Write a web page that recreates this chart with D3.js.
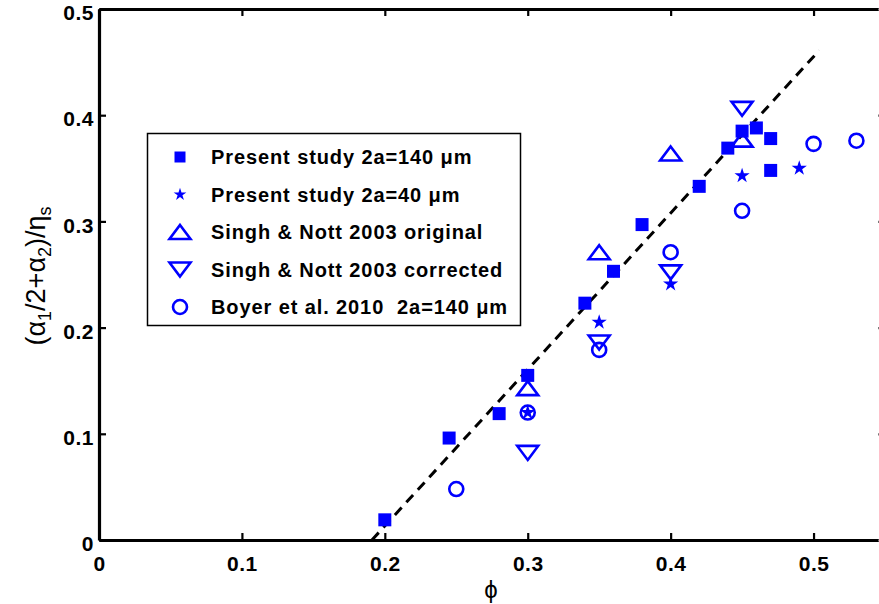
<!DOCTYPE html>
<html>
<head>
<meta charset="utf-8">
<script src="https://cdn.jsdelivr.net/npm/d3@7"></script>
<style>
  html, body { margin: 0; padding: 0; background: #fff; }
  svg { display: block; }
  text { font-family: "Liberation Sans", Arial, sans-serif; }
</style>
</head>
<body>
<svg id="chart" width="879" height="604"></svg>
<script>
// ---- data ----
const xTicks = [0, 0.1, 0.2, 0.3, 0.4, 0.5];
const yTicks = [0, 0.1, 0.2, 0.3, 0.4, 0.5];
const xTickLabels = ["0", "0.1", "0.2", "0.3", "0.4", "0.5"];
const yTickLabels = ["0", "0.1", "0.2", "0.3", "0.4", "0.5"];

const present140Phi = [0.2, 0.245, 0.28, 0.3, 0.34, 0.36, 0.38, 0.42, 0.44, 0.45, 0.46, 0.47, 0.47];
const present140Val = [0.019, 0.096, 0.119, 0.155, 0.223, 0.253, 0.297, 0.333, 0.369, 0.385, 0.388, 0.378, 0.348];

const present40Phi = [0.3, 0.35, 0.4, 0.45, 0.49];
const present40Val = [0.12, 0.205, 0.241, 0.343, 0.350];

const singhOrigPhi = [0.3, 0.35, 0.4, 0.45];
const singhOrigVal = [0.143, 0.271, 0.364, 0.377];

const singhCorrPhi = [0.3, 0.35, 0.4, 0.45];
const singhCorrVal = [0.082, 0.186, 0.252, 0.406];

const boyerPhi = [0.25, 0.3, 0.35, 0.4, 0.45, 0.5, 0.53];
const boyerVal = [0.048, 0.12, 0.179, 0.271, 0.31, 0.373, 0.376];

const fitPhi = [0.191, 0.504];
const fitVal = [0, 0.461];

const legendLabels = [
  "Present study 2a=140 \u03bcm",
  "Present study 2a=40 \u03bcm",
  "Singh & Nott 2003 original",
  "Singh & Nott 2003 corrected",
  "Boyer et al. 2010  2a=140 \u03bcm"
];
const legendKinds = ["square", "star", "triUp", "triDown", "circle"];

// ---- layout ----
const svg = d3.select("#chart");
const mLeft = 99, mRight = 885, mTop = 9, mBottom = 540;
const x = d3.scaleLinear().domain([0, 0.55]).range([mLeft, mRight]);
const y = d3.scaleLinear().domain([0, 0.5]).range([mBottom, mTop]);
const blue = "#0000ff";

function markerPath(kind, legend) {
  if (kind === "square") {
    const s = legend ? 11 : 13;
    return `M${-s/2},${-s/2}h${s}v${s}h${-s}Z`;
  }
  if (kind === "star") {
    return d3.symbol(d3.symbolStar, legend ? 50 : 72)();
  }
  if (kind === "triUp") {
    return "M0,-7L10.5,7L-10.5,7Z";
  }
  if (kind === "triDown") {
    return "M0,7L10.5,-7L-10.5,-7Z";
  }
  if (kind === "circle") {
    return d3.arc()({innerRadius: 0, outerRadius: 7, startAngle: 0, endAngle: 2 * Math.PI});
  }
}
function styleMarker(sel, kind) {
  if (kind === "square" || kind === "star") {
    sel.attr("fill", blue).attr("stroke", "none");
  } else {
    sel.attr("fill", "none").attr("stroke", blue).attr("stroke-width", 2.6).attr("stroke-linejoin", "miter");
  }
}

// ---- axes ----
const fmtX = (d, i) => xTickLabels[i];
const fmtY = (d, i) => yTickLabels[i];

const gB = svg.append("g").attr("transform", `translate(0,${mBottom})`)
  .call(d3.axisBottom(x).tickValues(xTicks).tickFormat(fmtX).tickSize(-7).tickSizeOuter(0).tickPadding(16));
const gL = svg.append("g").attr("transform", `translate(${mLeft},0)`)
  .call(d3.axisLeft(y).tickValues(yTicks).tickFormat(fmtY).tickSize(-7).tickSizeOuter(0).tickPadding(5));
const gT = svg.append("g").attr("transform", `translate(0,${mTop})`)
  .call(d3.axisTop(x).tickValues(xTicks).tickFormat("").tickSize(-7).tickSizeOuter(0));
const gR = svg.append("g").attr("transform", `translate(${mRight},0)`)
  .call(d3.axisRight(y).tickValues(yTicks).tickFormat("").tickSize(-7).tickSizeOuter(0));

[gB, gL, gT, gR].forEach(g => {
  g.select(".domain").attr("stroke", "#000").attr("stroke-width", 3.2);
  g.selectAll(".tick line").attr("stroke", "#000").attr("stroke-width", 2.2);
  g.selectAll(".tick text").attr("fill", "#000").attr("font-size", 21).attr("font-weight", "bold")
    .attr("letter-spacing", 0.5)
    .attr("font-family", "'Liberation Sans', Arial, sans-serif");
});
gL.selectAll(".tick text").attr("transform", "translate(0,4)");
gR.selectAll(".tick line").attr("stroke", "#777");

// ---- axis labels ----
svg.append("text").attr("x", 491).attr("y", 598).attr("text-anchor", "middle")
  .attr("font-size", 24).attr("font-family", "'Liberation Serif', 'DejaVu Serif', serif").text("\u03d5");

const yl = svg.append("text").attr("transform", "translate(45,276) rotate(-90)")
  .attr("text-anchor", "middle").attr("font-size", 27);
yl.append("tspan").text("(\u03b1");
yl.append("tspan").attr("font-size", 18).attr("dy", 6).text("1");
yl.append("tspan").attr("dy", -6).text("/2+\u03b1");
yl.append("tspan").attr("font-size", 18).attr("dy", 6).text("2");
yl.append("tspan").attr("dy", -6).text(")/\u03b7");
yl.append("tspan").attr("font-size", 18).attr("dy", 6).text("s");

// ---- fit line ----
const fitData = fitPhi.map((p, i) => [p, fitVal[i]]);
svg.append("path").datum(fitData)
  .attr("d", d3.line().x(d => x(d[0])).y(d => y(d[1])))
  .attr("fill", "none").attr("stroke", "#000").attr("stroke-width", 3)
  .attr("stroke-dasharray", "10,7");

// ---- markers ----
const series = [
  {kind: "square", phi: present140Phi, val: present140Val},
  {kind: "star", phi: present40Phi, val: present40Val},
  {kind: "triUp", phi: singhOrigPhi, val: singhOrigVal},
  {kind: "triDown", phi: singhCorrPhi, val: singhCorrVal},
  {kind: "circle", phi: boyerPhi, val: boyerVal}
];
series.forEach(s => {
  const pts = s.phi.map((p, i) => [p, s.val[i]]);
  svg.append("g").selectAll("path").data(pts).join("path")
    .attr("transform", d => `translate(${x(d[0])},${y(d[1])})`)
    .attr("d", markerPath(s.kind, false))
    .call(sel => styleMarker(sel, s.kind));
});

// ---- legend ----
const lg = svg.append("g");
lg.append("rect").attr("x", 147.5).attr("y", 133.5).attr("width", 373).attr("height", 192)
  .attr("fill", "#fff").attr("stroke", "#000").attr("stroke-width", 1.5);
const rowY = d3.scalePoint().domain(d3.range(legendLabels.length)).range([157, 307]);
legendLabels.forEach((lab, i) => {
  lg.append("path").attr("transform", `translate(180,${rowY(i)})`)
    .attr("d", markerPath(legendKinds[i], true))
    .call(sel => styleMarker(sel, legendKinds[i]));
  lg.append("text").attr("x", 211).attr("y", rowY(i)).attr("dy", "0.36em")
    .attr("font-size", 20).attr("font-weight", "bold").attr("letter-spacing", 0.9)
    .attr("fill", "#000").attr("xml:space", "preserve").style("white-space", "pre").text(lab);
});
</script>
</body>
</html>
